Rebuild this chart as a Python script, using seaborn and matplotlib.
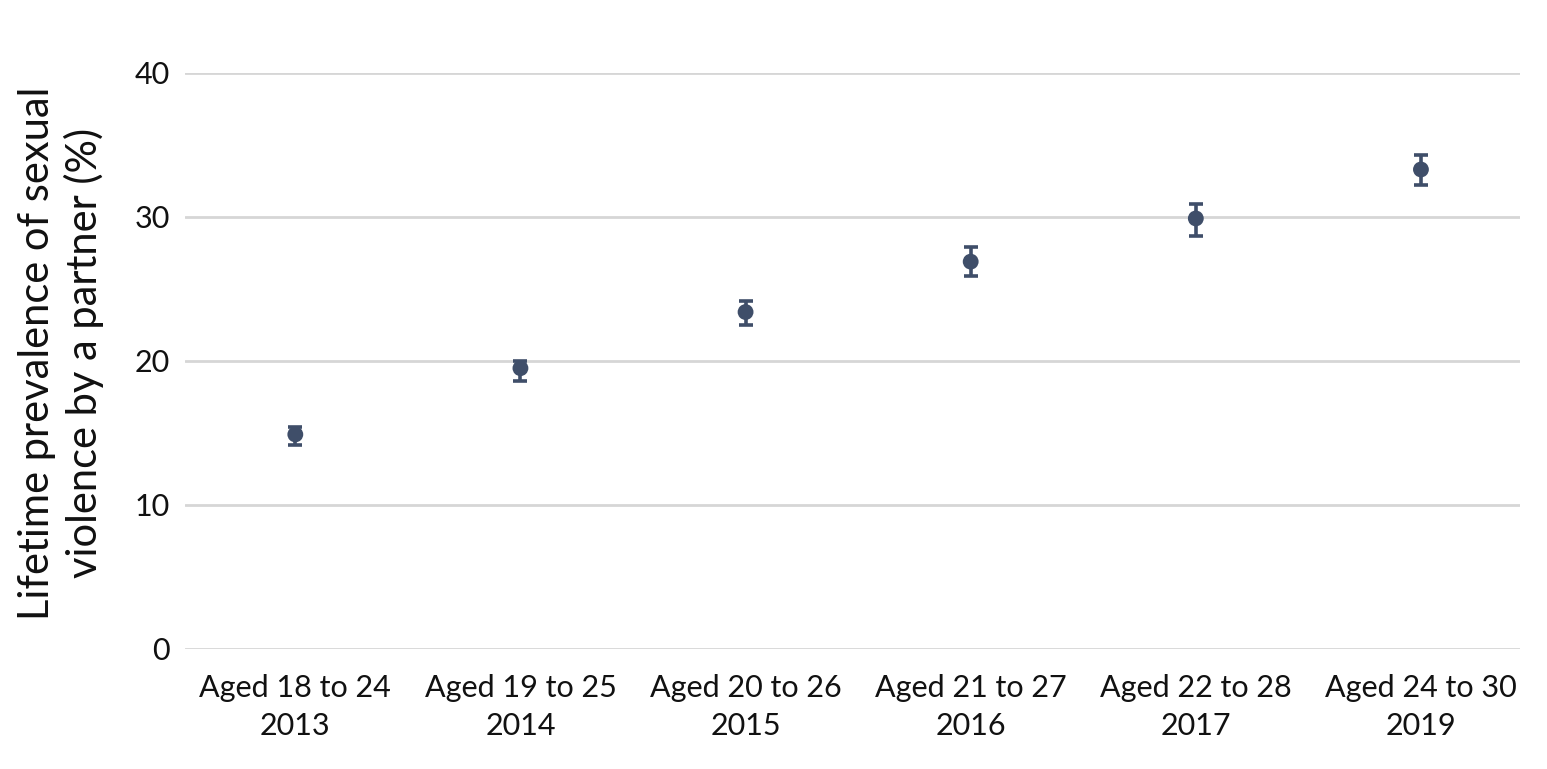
import numpy as np
import pandas as pd
import matplotlib
matplotlib.use('Agg')
import matplotlib.pyplot as plt
import seaborn as sns

# Data
groups = ['Aged 18 to 24\n2013', 'Aged 19 to 25\n2014', 'Aged 20 to 26\n2015',
          'Aged 21 to 27\n2016', 'Aged 22 to 28\n2017', 'Aged 24 to 30\n2019']
prevalence = [14.9, 19.5, 23.4, 26.9, 29.9, 33.3]
ci_low = [14.2, 18.6, 22.5, 25.9, 28.7, 32.2]
ci_high = [15.4, 20.0, 24.2, 27.9, 30.9, 34.3]

color = '#3f4e69'

sns.set_theme(style='white')
plt.rcParams['font.family'] = ['Lato', 'DejaVu Sans']

df = pd.DataFrame({'group': groups, 'value': prevalence})

fig = plt.figure(figsize=(15.47, 7.69), dpi=100)
ax = fig.add_axes([185 / 1547, 1 - 649 / 769, (1520 - 185) / 1547, (649 - 73) / 769])

xpos = np.arange(len(groups))
yerr = [np.array(prevalence) - np.array(ci_low), np.array(ci_high) - np.array(prevalence)]
ax.errorbar(xpos, prevalence, yerr=yerr, fmt='none', ecolor=color,
            elinewidth=2.6, capsize=5, capthick=2.6, zorder=3)
sns.scatterplot(data=df, x=xpos, y='value', color=color, s=130, edgecolor='none',
                zorder=4, ax=ax)

ax.set_xlim(-0.49, len(groups) - 0.56)
ax.set_ylim(0, 40)
ax.set_yticks([0, 10, 20, 30, 40])
ax.set_xticks(xpos)
ax.set_xticklabels(groups)
ax.yaxis.grid(True, color='#d6d6d6', linewidth=2)
ax.set_axisbelow(True)
for s in ax.spines.values():
    s.set_visible(False)
ax.tick_params(axis='both', length=0, labelsize=22, colors='#111111')
ax.tick_params(axis='y', pad=11)
ax.tick_params(axis='x', pad=18)
for lab in ax.get_xticklabels():
    lab.set_linespacing(1.45)
ax.set_xlabel('')
ax.set_ylabel('Lifetime prevalence of sexual\nviolence by a partner (%)', fontsize=30,
              color='#111111', va='center', linespacing=1.25)
ax.yaxis.set_label_coords(-0.093, 0.514)

fig.savefig('out.png', dpi=100)
